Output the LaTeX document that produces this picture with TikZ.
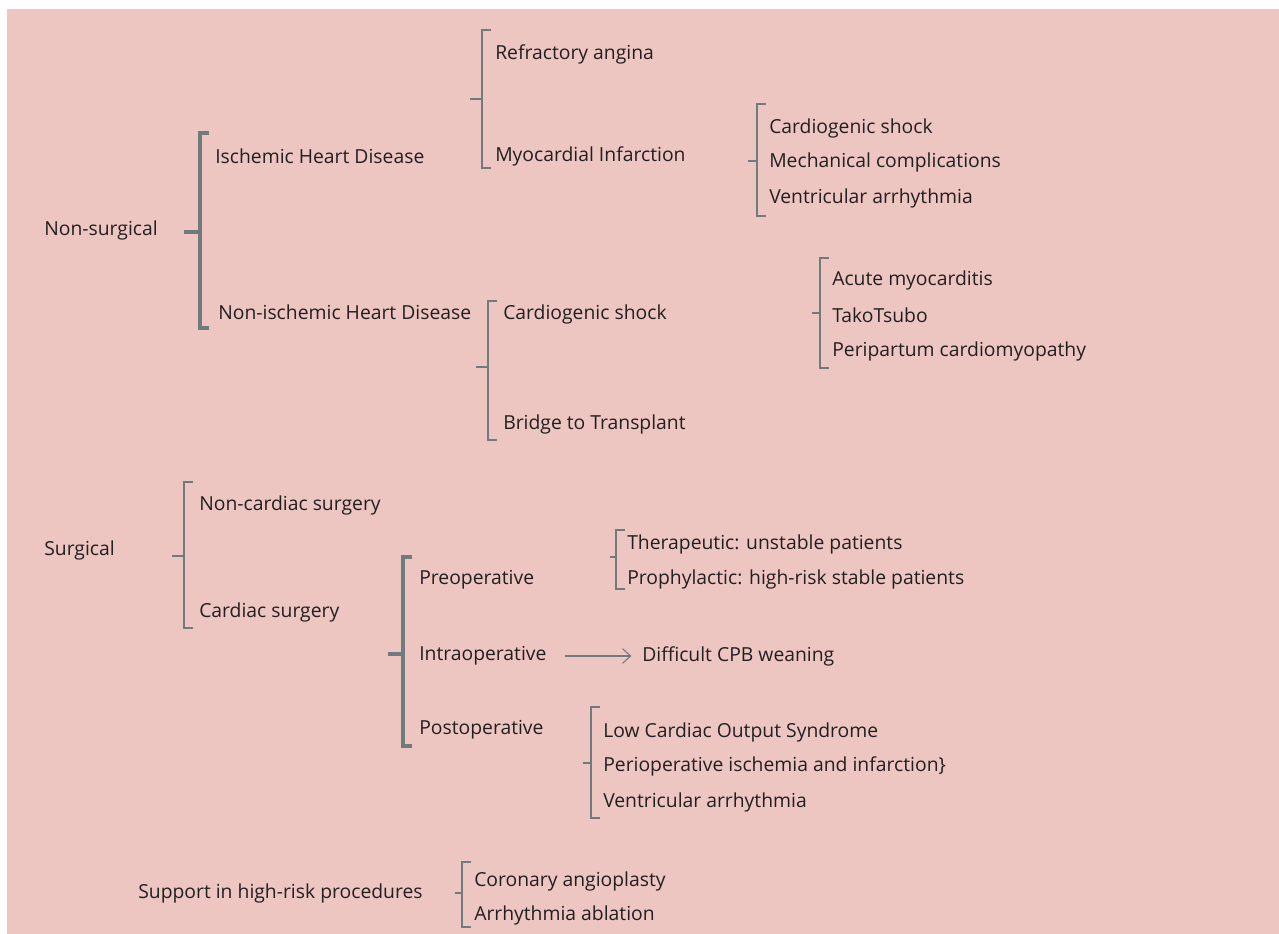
\documentclass[tikz,border=0pt]{standalone}
\usepackage{fontspec}
\setmainfont{Open Sans}
\usetikzlibrary{arrows.meta}
\definecolor{bgpink}{RGB}{237,198,194}
\definecolor{bracegray}{RGB}{112,124,124}
\definecolor{textdark}{RGB}{35,31,32}
\tikzset{
	item/.style = {anchor=west, inner sep=0pt, yshift=-1.5pt, text=textdark, font=\fontsize{14.5}{17}\selectfont},
	bracket/.style = {draw=bracegray, line cap=butt, line join=miter},
	heavy/.style = {bracket, line width=2.5pt},
	strong/.style = {bracket, line width=2.1pt},
	medium/.style = {bracket, line width=1.6pt},
	light/.style = {bracket, line width=0.9pt},
}
% style, x, top, bottom, tip y, tip length
\newcommand{\drawbracket}[6]{%
	\draw[#1] (#2+9,#3) -- (#2,#3) -- (#2,#4) -- (#2+9,#4);
	\draw[#1] (#2,#5) -- (#2-#6,#5);
}
\begin{document}
\begin{tikzpicture}[x=0.75pt, y=-0.75pt]
	\useasboundingbox (0,0) rectangle (1279,934);
	\fill[bgpink] (7,9) rectangle (1279,934);

	% non-surgical
	\node[item] (nonsurg) at (44,228) {Non-surgical};
	\node[item] (ihd) at (215,154) {Ischemic Heart Disease};
	\node[item] (nihd) at (218,310) {Non-ischemic Heart Disease};
	\node[item] (refr) at (495,52) {Refractory angina};
	\node[item] (mi) at (495,154) {Myocardial Infarction};
	\node[item] (mishock) at (769,126) {Cardiogenic shock};
	\node[item] (mech) at (769,160) {Mechanical complications};
	\node[item] (miarr) at (769,196) {Ventricular arrhythmia};
	\node[item] (nishock) at (503,312) {Cardiogenic shock};
	\node[item] (bridge) at (503,422) {Bridge to Transplant};
	\node[item] (myoc) at (832,278) {Acute myocarditis};
	\node[item] (tako) at (832,313) {TakoTsubo};
	\node[item] (peri) at (832,349) {Peripartum cardiomyopathy};

	\drawbracket{heavy}{200}{133}{328}{232}{16}
	\drawbracket{medium}{482}{30}{168}{99}{12}
	\drawbracket{light}{757}{104}{216}{161}{9}
	\drawbracket{strong}{488}{301}{440}{367}{12}
	\drawbracket{light}{820}{258}{368}{313}{8}

	% surgical
	\node[item] (surg) at (44,548) {Surgical};
	\node[item] (noncard) at (199,503) {Non-cardiac surgery};
	\node[item] (card) at (199,610) {Cardiac surgery};
	\node[item] (preop) at (419,578) {Preoperative};
	\node[item] (intraop) at (419,654) {Intraoperative};
	\node[item] (postop) at (419,728) {Postoperative};
	\node[item] (thera) at (627,542) {Therapeutic: unstable patients};
	\node[item] (proph) at (627,577) {Prophylactic: high-risk stable patients};
	\node[item] (cpb) at (642,654) {Difficult CPB weaning};
	\node[item] (lcos) at (603,730) {Low Cardiac Output Syndrome};
	\node[item] (ischinf) at (603,764) {Perioperative ischemia and infarction\}};
	\node[item] (poarr) at (603,800) {Ventricular arrhythmia};

	\drawbracket{strong}{184}{482}{628}{556}{12}
	\drawbracket{heavy}{403}{557}{746}{654}{15}
	\drawbracket{light}{616}{530}{589}{557}{6}
	\drawbracket{light}{591}{707}{818}{763}{8}

	\draw[bracegray, line width=0.8pt, -{Straight Barb[length=6pt, width=11pt]}, shorten <=14pt, shorten >=8pt] (intraop) -- (cpb);

	% high-risk procedures
	\node[item] (support) at (138,891) {Support in high-risk procedures};
	\node[item] (angio) at (474,879) {Coronary angioplasty};
	\node[item] (ablat) at (474,913) {Arrhythmia ablation};

	\drawbracket{light}{462}{862}{927}{893}{7}
\end{tikzpicture}
\end{document}
